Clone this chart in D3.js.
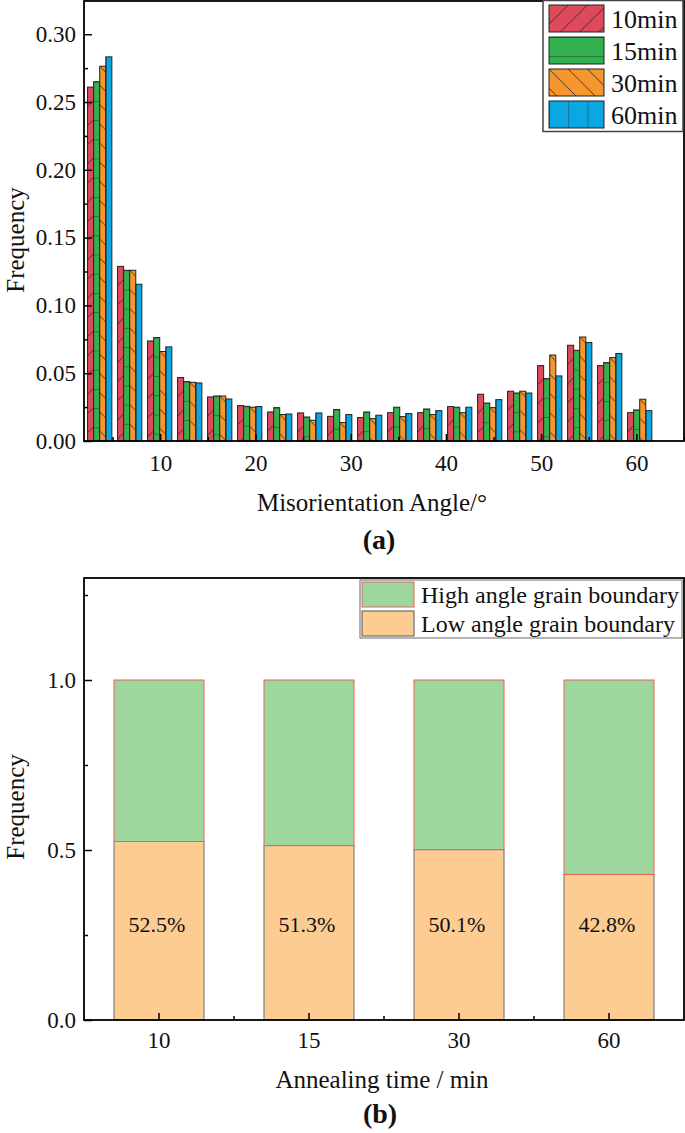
<!DOCTYPE html>
<html>
<head>
<meta charset="utf-8">
<script src="https://cdn.jsdelivr.net/npm/d3@7"></script>
<style>
  html, body { margin: 0; padding: 0; background: #fff; }
  svg { display: block; }
  svg text { font-family: "Liberation Serif", serif; fill: #111; }
</style>
</head>
<body>
<svg id="chart" width="685" height="1133"></svg>
<script>
// ---------- DATA (panel a) ----------
const angleCenters = [3.65, 6.8, 9.95, 13.1, 16.25, 19.4, 22.55, 25.7, 28.85, 32.0, 35.15, 38.3, 41.45, 44.6, 47.75, 50.9, 54.05, 57.2, 60.35];
const seriesNames = ["10min", "15min", "30min", "60min"];
const freq10 = [0.261, 0.1288, 0.0738, 0.0468, 0.0325, 0.0261, 0.0214, 0.0207, 0.0182, 0.0173, 0.0209, 0.0209, 0.0254, 0.0345, 0.0367, 0.0556, 0.0706, 0.0556, 0.0209];
const freq15 = [0.265, 0.1259, 0.0763, 0.0438, 0.0332, 0.0256, 0.0246, 0.0177, 0.0232, 0.0214, 0.0249, 0.0236, 0.0249, 0.0280, 0.0354, 0.0460, 0.0669, 0.0578, 0.0229];
const freq30 = [0.2764, 0.1259, 0.0660, 0.0433, 0.0332, 0.0249, 0.0195, 0.0153, 0.0136, 0.0165, 0.0180, 0.0195, 0.0209, 0.0246, 0.0367, 0.0634, 0.0767, 0.0615, 0.0308];
const freq60 = [0.2833, 0.1156, 0.0694, 0.0428, 0.0310, 0.0254, 0.0199, 0.0207, 0.0195, 0.0190, 0.0202, 0.0224, 0.0249, 0.0305, 0.0354, 0.0480, 0.0726, 0.0645, 0.0224];
const yTicksA = [0.00, 0.05, 0.10, 0.15, 0.20, 0.25, 0.30];
const yTickLabelsA = ["0.00", "0.05", "0.10", "0.15", "0.20", "0.25", "0.30"];
const xTicksA = [10, 20, 30, 40, 50, 60];

// ---------- DATA (panel b) ----------
const annealTimes = ["10", "15", "30", "60"];
const lowAngle = [0.525, 0.513, 0.501, 0.428];
const highAngle = [0.475, 0.487, 0.499, 0.572];
const pctLabels = ["52.5%", "51.3%", "50.1%", "42.8%"];
const legendB = ["High angle grain boundary", "Low angle grain boundary"];
const yTicksB = [0.0, 0.5, 1.0];
const yTickLabelsB = ["0.0", "0.5", "1.0"];

// ---------- STYLE ----------
const FONT = "'Liberation Serif', serif";
const colorsA = ["#DE4A5C", "#34B14F", "#F6962F", "#0BA7E2"];
const greenB = "#9DD79D", orangeB = "#FDCC92", redEdge = "#E8625A";
const svg = d3.select("#chart");
svg.append("rect").attr("width", 685).attr("height", 1133).attr("fill", "#fff");

const defs = svg.append("defs");
const P = 19.2;
const patPaths = [
  `M0,${P} L${P},0 M${-P/2},${P/2} L${P/2},${-P/2} M${P/2},${1.5*P} L${1.5*P},${P/2}`,
  `M0,0 H${P}`,
  `M0,0 L${P},${P} M${-P/2},${P/2} L${P/2},${1.5*P} M${P/2},${-P/2} L${1.5*P},${P/2}`,
  `M0,0 V${P}`
];
seriesNames.forEach((s, i) => {
  const p = defs.append("pattern").attr("id", "pat" + i)
    .attr("patternUnits", "userSpaceOnUse").attr("width", P).attr("height", P);
  p.append("rect").attr("width", P).attr("height", P).attr("fill", colorsA[i]);
  p.append("path").attr("d", patPaths[i]).attr("stroke", "#2a2a2a").attr("stroke-width", 0.9).attr("fill", "none");
});

function txt(sel) { return sel.attr("font-family", FONT).attr("fill", "#111"); }

// ================= PANEL A =================
const A = { left: 84, right: 684, top: 1, bottom: 441 };
const xA = d3.scaleLinear().domain([2, 65]).range([A.left, A.right]);
const yA = d3.scaleLinear().domain([0, 0.3245]).range([A.bottom, A.top]);
const seriesA = [freq10, freq15, freq30, freq60];
const groupW = 2.55; // degrees spanned by a group of 4 bars
const sub = d3.scaleBand().domain(d3.range(4)).range([0, groupW]);

const gA = svg.append("g");
seriesA.forEach((vals, si) => {
  gA.selectAll(null).data(vals).enter().append("g")
    .attr("transform", (d, i) => `translate(${xA(angleCenters[i] - groupW / 2 + sub(si))},${yA(d)})`)
    .append("rect")
    .attr("x", 0).attr("y", 0)
    .attr("width", xA(sub.bandwidth()) - xA(0))
    .attr("height", d => A.bottom - yA(d))
    .attr("fill", `url(#pat${si})`)
    .attr("stroke", "#222").attr("stroke-width", 1);
});

const yAxA = d3.axisLeft(yA).tickValues(yTicksA).tickFormat((d, i) => yTickLabelsA[i]).tickSize(-8).tickPadding(8);
const yAxAm = d3.axisLeft(yA).tickValues(yTicksA.slice(0, -1).map(v => v + 0.025)).tickFormat("").tickSize(-4);
const xAxA = d3.axisBottom(xA).tickValues(xTicksA).tickSize(-7).tickPadding(14);
const xAxAm = d3.axisBottom(xA).tickValues(xTicksA.map(v => v - 5).concat([65])).tickFormat("").tickSize(-4);
function styleAxis(g, fs) {
  g.select(".domain").remove();
  g.selectAll(".tick line").attr("stroke", "#000").attr("stroke-width", 1.5);
  g.selectAll("text").attr("font-size", fs).attr("font-family", FONT).attr("fill", "#111");
}
svg.append("g").attr("transform", `translate(${A.left},0)`).call(yAxA).call(g => styleAxis(g, 23));
svg.append("g").attr("transform", `translate(${A.left},0)`).call(yAxAm).call(g => styleAxis(g, 23));
svg.append("g").attr("transform", `translate(0,${A.bottom})`).call(xAxA).call(g => styleAxis(g, 23));
svg.append("g").attr("transform", `translate(0,${A.bottom})`).call(xAxAm).call(g => styleAxis(g, 23));
svg.append("rect").attr("x", A.left).attr("y", A.top).attr("width", A.right - A.left).attr("height", A.bottom - A.top)
  .attr("fill", "none").attr("stroke", "#000").attr("stroke-width", 1.8);

// legend panel A
const legA = svg.append("g");
legA.append("rect").attr("x", 543).attr("y", 0.5).attr("width", 140).attr("height", 131)
  .attr("fill", "#fff").attr("stroke", "#444").attr("stroke-width", 1.5);
seriesNames.forEach((s, i) => {
  const yy = 5 + i * 32;
  legA.append("g").attr("transform", `translate(549,${yy})`)
    .append("rect").attr("width", 55).attr("height", 27)
    .attr("fill", `url(#pat${i})`).attr("stroke", "#222").attr("stroke-width", 1);
  txt(legA.append("text")).attr("x", 611).attr("y", yy + 23).attr("font-size", 26).text(s);
});

// titles panel A
txt(svg.append("text")).attr("x", 372).attr("y", 511).attr("text-anchor", "middle").attr("font-size", 25).text("Misorientation Angle/°");
txt(svg.append("text")).attr("transform", "translate(24,240) rotate(-90)").attr("text-anchor", "middle").attr("font-size", 25).text("Frequency");
txt(svg.append("text")).attr("x", 379).attr("y", 549).attr("text-anchor", "middle").attr("font-size", 28).attr("font-weight", "bold").text("(a)");

// ================= PANEL B =================
const B = { left: 84, right: 684, top: 578, bottom: 1020 };
const xB = d3.scaleBand().domain(annealTimes).range([B.left, B.right]).paddingInner(0.4).paddingOuter(0.2);
const yB = d3.scaleLinear().domain([0, 1.3]).range([B.bottom, B.top]);

const gB = svg.append("g");
gB.selectAll(".low").data(lowAngle).enter().append("rect")
  .attr("x", (d, i) => xB(annealTimes[i])).attr("width", xB.bandwidth())
  .attr("y", d => yB(d)).attr("height", d => B.bottom - yB(d))
  .attr("fill", orangeB).attr("stroke", "#6b6b6b").attr("stroke-width", 1);
gB.selectAll(".high").data(highAngle).enter().append("rect")
  .attr("x", (d, i) => xB(annealTimes[i])).attr("width", xB.bandwidth())
  .attr("y", (d, i) => yB(lowAngle[i] + d)).attr("height", (d, i) => yB(lowAngle[i]) - yB(lowAngle[i] + d))
  .attr("fill", greenB).attr("stroke", redEdge).attr("stroke-width", 1);
txt(gB.selectAll(".pct").data(pctLabels).enter().append("text"))
  .attr("x", (d, i) => xB(annealTimes[i]) + xB.bandwidth() / 2 - 2)
  .attr("y", yB(0.26)).attr("text-anchor", "middle").attr("font-size", 22).text(d => d);

const yAxB = d3.axisLeft(yB).tickValues(yTicksB).tickFormat((d, i) => yTickLabelsB[i]).tickSize(-8).tickPadding(8);
const yAxBm = d3.axisLeft(yB).tickValues([0.25, 0.75, 1.25]).tickFormat("").tickSize(-4);
const xAxB = d3.axisBottom(xB).tickSize(-7).tickPadding(12);
const bStep = xB.step();
const xMinorB = annealTimes.slice(0, -1).map(t => xB(t) + xB.bandwidth() / 2 + bStep / 2);
svg.append("g").attr("transform", `translate(${B.left},0)`).call(yAxB).call(g => styleAxis(g, 23));
svg.append("g").attr("transform", `translate(${B.left},0)`).call(yAxBm).call(g => styleAxis(g, 23));
svg.append("g").attr("transform", `translate(0,${B.bottom})`).call(xAxB).call(g => styleAxis(g, 23));
svg.append("g").selectAll("line").data(xMinorB).enter().append("line")
  .attr("x1", d => d).attr("x2", d => d).attr("y1", B.bottom).attr("y2", B.bottom - 4)
  .attr("stroke", "#000").attr("stroke-width", 1.5);
svg.append("rect").attr("x", B.left).attr("y", B.top).attr("width", B.right - B.left).attr("height", B.bottom - B.top)
  .attr("fill", "none").attr("stroke", "#000").attr("stroke-width", 1.8);

// legend panel B
const legB = svg.append("g");
legB.append("rect").attr("x", 360).attr("y", 580).attr("width", 322).attr("height", 58)
  .attr("fill", "#fff").attr("stroke", "#6b6b6b").attr("stroke-width", 1);
const legBFill = [greenB, orangeB], legBStroke = [redEdge, "#555"];
legendB.forEach((s, i) => {
  const yy = 582 + i * 29;
  legB.append("rect").attr("x", 362).attr("y", yy).attr("width", 52).attr("height", 25)
    .attr("fill", legBFill[i]).attr("stroke", legBStroke[i]).attr("stroke-width", 1);
  txt(legB.append("text")).attr("x", 421).attr("y", yy + 21).attr("font-size", 24).text(s);
});

txt(svg.append("text")).attr("x", 382).attr("y", 1088).attr("text-anchor", "middle").attr("font-size", 25).text("Annealing time / min");
txt(svg.append("text")).attr("transform", "translate(24,807) rotate(-90)").attr("text-anchor", "middle").attr("font-size", 25).text("Frequency");
txt(svg.append("text")).attr("x", 380).attr("y", 1123).attr("text-anchor", "middle").attr("font-size", 28).attr("font-weight", "bold").text("(b)");
</script>
</body>
</html>
